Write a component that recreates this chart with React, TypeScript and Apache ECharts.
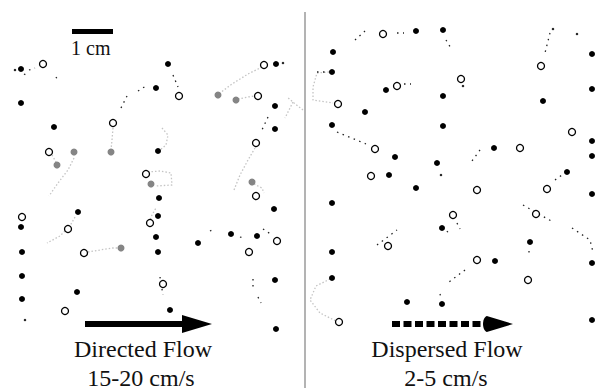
import React, { useEffect, useRef } from "react";
import * as echarts from "echarts";

// Marker positions in the figure's own coordinate frame (x: 0-600, y: 0-391, y downward)
const filledDots: number[][] = [
  [21, 69], [21, 103], [54, 127], [156, 88], [168, 64], [158, 151], [159, 198], [276, 64], [275, 106], [275, 129],
  [21, 227], [78, 212], [22, 252], [22, 276], [22, 299], [77, 292], [158, 216], [156, 237], [158, 252], [170, 310],
  [274, 209], [198, 243], [231, 234], [257, 236], [275, 280], [276, 329],
  [416, 31], [443, 30], [333, 52], [332, 72], [386, 90], [443, 96], [365, 112], [332, 125], [443, 126], [395, 157],
  [437, 163], [389, 175], [416, 188], [494, 148], [592, 54], [592, 89], [543, 101], [592, 141], [592, 156], [567, 172],
  [592, 194], [332, 203], [332, 252], [332, 278], [442, 228], [407, 302], [442, 304], [495, 261], [530, 242],
  [592, 263], [592, 320],
];

const openCircles: number[][] = [
  [43, 64], [49, 152], [113, 123], [179, 96], [146, 174], [264, 65], [258, 96], [256, 143], [256, 196],
  [22, 217], [68, 229], [84, 253], [150, 223], [65, 311], [163, 284], [277, 241], [249, 252],
  [383, 34], [397, 86], [461, 79], [338, 104], [375, 149], [371, 176], [477, 190], [520, 148], [541, 66],
  [572, 132], [547, 189], [339, 322], [388, 246], [453, 215], [477, 260], [536, 214], [528, 280],
];

const grayDots: number[][] = [
  [74, 152], [57, 165], [111, 152], [151, 184], [218, 95], [236, 100], [252, 182], [121, 248],
];

const specks: number[][] = [
  [15, 70], [25, 320], [577, 34], [463, 86], [441, 175], [553, 29], [283, 63],
];

const grayTrails: number[][][] = [
  [[262, 67], [248, 74], [232, 84], [220, 93]],
  [[238, 99], [248, 97], [255, 96]],
  [[303, 110], [294, 103], [287, 97]],
  [[293, 102], [285, 118]],
  [[255, 148], [248, 160], [240, 175], [234, 190]],
  [[254, 184], [262, 188], [264, 193]],
  [[74, 158], [68, 170], [58, 183], [49, 196]],
  [[52, 155], [56, 162]],
  [[113, 128], [112, 140], [111, 150]],
  [[162, 128], [168, 135], [166, 145], [160, 150]],
  [[148, 172], [160, 171], [171, 173], [172, 185], [156, 186]],
  [[75, 217], [70, 226], [60, 236], [47, 243]],
  [[88, 252], [100, 250], [112, 248], [121, 248]],
  [[148, 226], [152, 215], [156, 208]],
  [[330, 279], [316, 286], [310, 300], [320, 313], [336, 321]],
  [[329, 72], [317, 73], [313, 87], [313, 100], [333, 103]],
];

const blackTrails: number[][][] = [
  [[29, 70], [35, 68]], [[24, 74], [26, 75]], [[56, 77], [59, 82]], [[121, 108], [127, 96]],
  [[138, 91], [146, 86]], [[173, 75], [178, 87]], [[268, 117], [261, 132]], [[355, 40], [365, 31]],
  [[397, 33], [404, 33]], [[446, 40], [452, 50]], [[317, 72], [325, 72]], [[404, 84], [411, 84]],
  [[337, 132], [366, 144]], [[550, 33], [545, 53]], [[480, 150], [472, 161]], [[555, 180], [562, 175]],
  [[377, 245], [397, 230]], [[457, 223], [460, 229]], [[447, 231], [449, 234]], [[465, 270], [449, 282]],
  [[523, 205], [553, 222]], [[572, 228], [590, 240], [593, 252]], [[160, 277], [163, 295]],
  [[253, 279], [253, 287]], [[258, 297], [261, 303]], [[210, 231], [214, 229]], [[240, 237], [243, 238]],
  [[263, 229], [272, 235]], [[440, 294], [441, 298]], [[529, 251], [529, 254]],
];

const divider: number[][] = [[305, 12], [305, 388]];
const scaleBar: number[][] = [[72, 31.5], [113, 31.5]];
const solidShaft: number[][] = [[85, 324], [185, 324]];
const solidHead: number[][] = [[197, 324]];
const dashedShaft: number[][] = [[392, 324], [485, 324]];
const dashedHead: number[][] = [[498, 324]];

const labels = [
  { text: "1 cm", x: 71, y: 48, size: 20, align: "left" },
  { text: "Directed Flow", x: 143, y: 349, size: 24, align: "center" },
  { text: "15-20 cm/s", x: 141, y: 378, size: 24, align: "center" },
  { text: "Dispersed Flow", x: 447, y: 349, size: 24, align: "center" },
  { text: "2-5 cm/s", x: 446, y: 378, size: 24, align: "center" },
];

export default function App() {
  const ref = useRef<HTMLDivElement>(null);
  useEffect(() => {
    if (!ref.current) return;
    const chart = echarts.init(ref.current, null, { renderer: "svg" });
    const lineSeries = (data: number[][], color: string, width: number, type: any, z = 2) => ({
      type: "line",
      data,
      showSymbol: false,
      silent: true,
      z,
      lineStyle: { color, width, type, cap: "butt", opacity: 1 },
    });
    const series: any[] = [
      lineSeries(divider, "#9a9a9a", 1.5, "solid", 1),
      ...grayTrails.map((t) => lineSeries(t, "#c4c4c4", 1.3, [1.5, 2], 1)),
      ...blackTrails.map((t) => lineSeries(t, "#222", 1.3, [1.5, 4.5], 1)),
      lineSeries(scaleBar, "#000", 5, "solid"),
      lineSeries(solidShaft, "#000", 6, "solid"),
      lineSeries(dashedShaft, "#000", 6, [8, 3.5]),
      {
        type: "scatter",
        data: solidHead,
        symbol: "path://M0,0 L30,9 L0,18 Z",
        symbolSize: [30, 18],
        itemStyle: { color: "#000", opacity: 1 },
        silent: true,
        z: 3,
      },
      {
        type: "scatter",
        data: dashedHead,
        symbol: "path://M4,0 L30,8 L4,16 C-1,14 -1,2 4,0 Z",
        symbolSize: [30, 16],
        itemStyle: { color: "#000", opacity: 1 },
        silent: true,
        z: 3,
      },
      {
        type: "scatter",
        data: specks,
        symbolSize: 2.5,
        itemStyle: { color: "#222", opacity: 1 },
        silent: true,
        z: 3,
      },
      {
        type: "scatter",
        data: grayDots,
        symbolSize: 7,
        itemStyle: { color: "#858585", opacity: 1 },
        silent: true,
        z: 4,
      },
      {
        type: "scatter",
        data: filledDots,
        symbolSize: 6,
        itemStyle: { color: "#000", opacity: 1 },
        silent: true,
        z: 4,
      },
      {
        type: "scatter",
        data: openCircles,
        symbolSize: 7,
        itemStyle: { color: "#fff", borderColor: "#000", borderWidth: 1.3, opacity: 1 },
        silent: true,
        z: 4,
      },
    ];
    chart.setOption({
      animation: false,
      backgroundColor: "#fff",
      grid: { left: 0, right: 0, top: 0, bottom: 0 },
      xAxis: { type: "value", min: 0, max: 600, show: false },
      yAxis: { type: "value", min: 0, max: 391, inverse: true, show: false },
      series,
      graphic: labels.map((l) => ({
        type: "text",
        x: l.x,
        y: l.y,
        silent: true,
        style: {
          text: l.text,
          font: `${l.size}px "Liberation Serif", "Times New Roman", serif`,
          fill: "#111",
          textAlign: l.align,
          textVerticalAlign: "middle",
        },
      })),
    });
    return () => chart.dispose();
  }, []);
  return (
    <div
      ref={ref}
      style={{ position: "fixed", left: 0, top: 0, width: 600, height: 391, background: "#fff" }}
    />
  );
}
